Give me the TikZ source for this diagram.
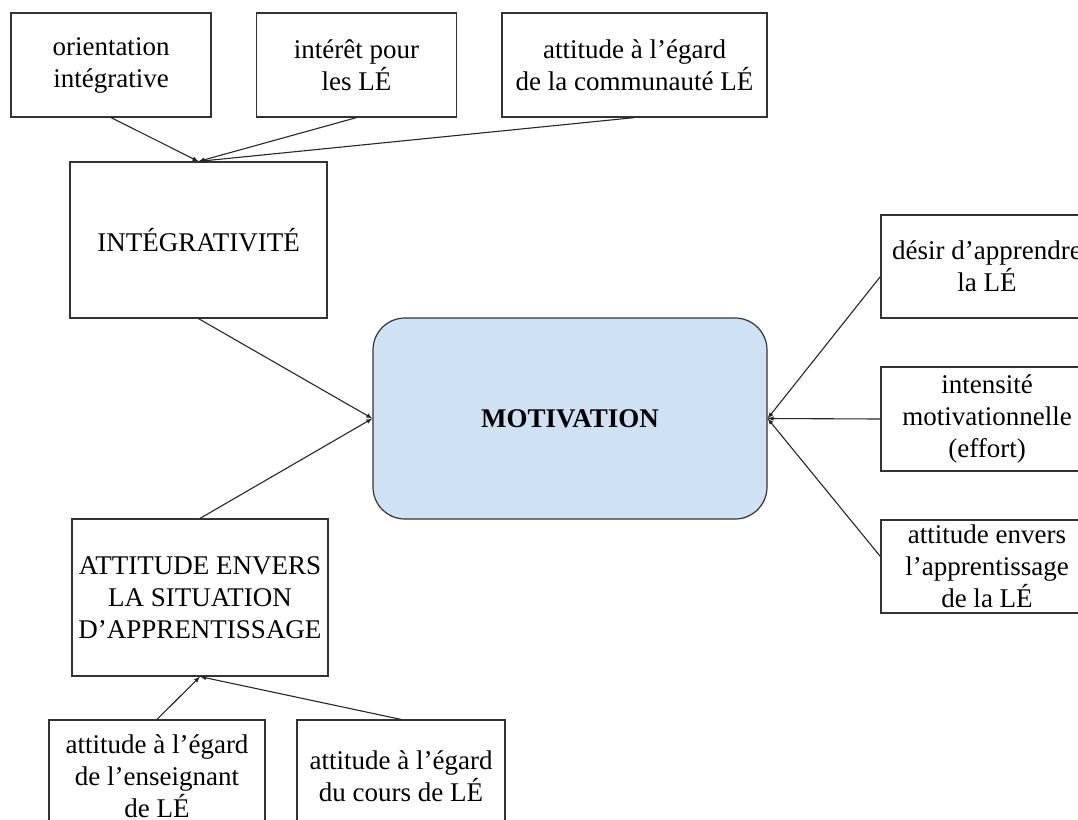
\documentclass[tikz,border=0pt]{standalone}
\usepackage{fontspec}
\setmainfont{Liberation Serif}
\definecolor{motivblue}{HTML}{CFE2F3}

\begin{document}
\begin{tikzpicture}[
				x=1pt, y=-1pt,
				box/.style = {draw=black!80, line width=1.2pt, align=center, inner sep=0pt,
						font=\fontsize{27}{32}\selectfont},
				link/.style = {-latex, line width=1.1pt, black!85},
			]
			\clip (0,0) rectangle (1078,819);
			\node[box, minimum width=200pt, minimum height=104pt] (orient) at (111,65) {orientation\\intégrative};
			\node[box, minimum width=200pt, minimum height=104pt] (interet) at (356.5,65) {intérêt pour\\les LÉ};
			\node[box, minimum width=265pt, minimum height=104pt] (commu) at (634.5,65) {attitude à l’égard\\de la communauté LÉ};
			\node[box, minimum width=257pt, minimum height=156pt] (integ) at (198.5,240) {INTÉGRATIVITÉ};
			\node[box, minimum width=394pt, minimum height=201pt, rounded corners=32pt, fill=motivblue,
				font=\fontsize{27}{32}\selectfont\bfseries] (motiv) at (570,418.5) {MOTIVATION};
			\node[box, minimum width=256pt, minimum height=157pt] (attsit) at (200,597.5) {ATTITUDE ENVERS\\LA SITUATION\\D’APPRENTISSAGE};
			\node[box, minimum width=216pt, minimum height=112pt] (enseig) at (157,776) {attitude à l’égard\\de l’enseignant\\de LÉ};
			\node[box, minimum width=208pt, minimum height=112pt] (cours) at (401,776) {attitude à l’égard\\du cours de LÉ};
			\node[box, minimum width=212pt, minimum height=103pt] (desir) at (987,266.5) {désir d’apprendre\\la LÉ};
			\node[box, minimum width=212pt, minimum height=104pt] (intens) at (987,419) {intensité\\motivationnelle\\(effort)};
			\node[box, minimum width=212pt, minimum height=93pt] (appr) at (987,566.5) {attitude envers\\l’apprentissage\\de la LÉ};
			\draw[link] (orient.south) -- (integ.north);
			\draw[link] (interet.south) -- (integ.north);
			\draw[link] (commu.south) -- (integ.north);
			\draw[link] (integ.south) -- (motiv.west);
			\draw[link] (attsit.north) -- (motiv.west);
			\draw[link] (enseig.north) -- (attsit.south);
			\draw[link] (cours.north) -- (attsit.south);
			\draw[link] ([yshift=-10pt]desir.west) -- (motiv.east);
			\draw[link] (intens.west) -- (motiv.east);
			\draw[link] ([yshift=10pt]appr.west) -- (motiv.east);
		\end{tikzpicture}
\end{document}
